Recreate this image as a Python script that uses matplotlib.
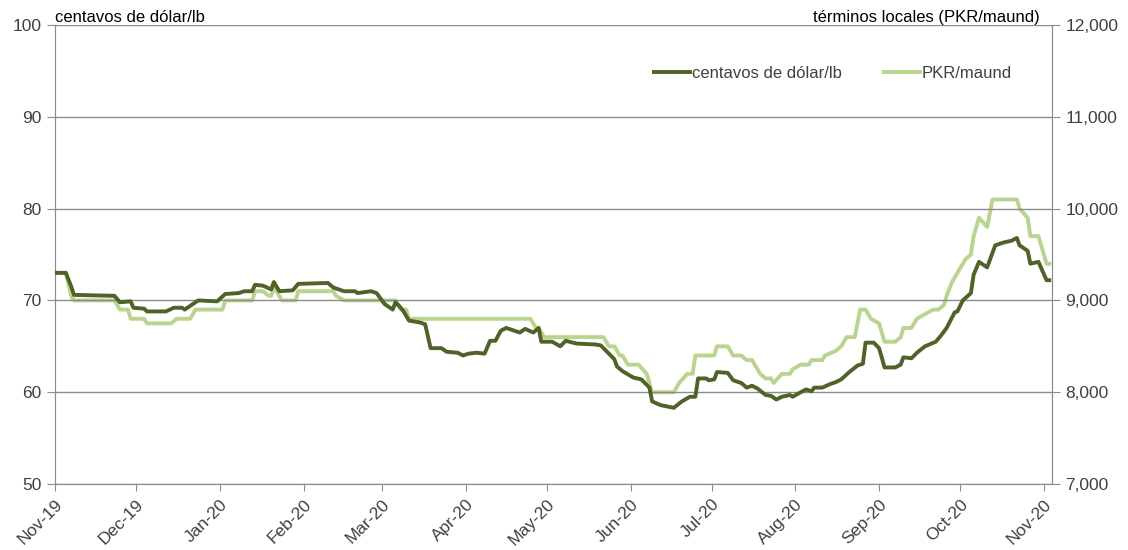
import matplotlib
matplotlib.use("Agg")
import matplotlib.pyplot as plt
import matplotlib.dates as mdates
from matplotlib.ticker import FuncFormatter
import pandas as pd

plt.rcParams['font.family'] = ['Liberation Sans', 'DejaVu Sans']

# centavos de dólar/lb (eje izquierdo)
usd_dates = ["2019-11-01", "2019-11-05", "2019-11-07", "2019-11-08", "2019-11-23", "2019-11-25",
             "2019-11-29", "2019-11-30", "2019-12-04", "2019-12-05", "2019-12-12", "2019-12-15",
             "2019-12-18", "2019-12-19", "2019-12-24", "2019-12-31", "2020-01-03", "2020-01-08",
             "2020-01-10", "2020-01-13", "2020-01-14", "2020-01-17", "2020-01-20", "2020-01-21",
             "2020-01-23", "2020-01-28", "2020-01-30", "2020-02-10", "2020-02-12", "2020-02-16",
             "2020-02-20", "2020-02-21", "2020-02-26", "2020-02-28", "2020-03-02", "2020-03-05",
             "2020-03-06", "2020-03-08", "2020-03-09", "2020-03-11", "2020-03-15", "2020-03-17",
             "2020-03-19", "2020-03-23", "2020-03-25", "2020-03-29", "2020-03-31", "2020-04-02",
             "2020-04-05", "2020-04-08", "2020-04-10", "2020-04-12", "2020-04-14", "2020-04-16",
             "2020-04-21", "2020-04-23", "2020-04-26", "2020-04-28", "2020-04-29", "2020-05-03",
             "2020-05-06", "2020-05-08", "2020-05-12", "2020-05-19", "2020-05-21", "2020-05-24",
             "2020-05-26", "2020-05-27", "2020-05-29", "2020-06-02", "2020-06-05", "2020-06-08",
             "2020-06-09", "2020-06-12", "2020-06-17", "2020-06-20", "2020-06-23", "2020-06-25",
             "2020-06-26", "2020-06-29", "2020-06-30", "2020-07-02", "2020-07-03", "2020-07-07",
             "2020-07-09", "2020-07-12", "2020-07-14", "2020-07-16", "2020-07-18", "2020-07-21",
             "2020-07-23", "2020-07-25", "2020-07-27", "2020-07-30", "2020-07-31", "2020-08-03",
             "2020-08-05", "2020-08-07", "2020-08-08", "2020-08-11", "2020-08-14", "2020-08-16",
             "2020-08-18", "2020-08-21", "2020-08-24", "2020-08-26", "2020-08-27", "2020-08-30",
             "2020-09-01", "2020-09-02", "2020-09-03", "2020-09-07", "2020-09-09", "2020-09-10",
             "2020-09-13", "2020-09-15", "2020-09-18", "2020-09-22", "2020-09-24", "2020-09-26",
             "2020-09-29", "2020-09-30", "2020-10-02", "2020-10-05", "2020-10-06", "2020-10-08",
             "2020-10-11", "2020-10-14", "2020-10-17", "2020-10-20", "2020-10-22", "2020-10-23",
             "2020-10-26", "2020-10-27", "2020-10-30", "2020-11-02", "2020-11-03"]
usd_values = [73.0, 73.0, 71.5, 70.6, 70.5, 69.8,
              69.9, 69.2, 69.1, 68.8, 68.8, 69.2,
              69.2, 69.0, 70.0, 69.9, 70.7, 70.8,
              71.0, 71.0, 71.7, 71.6, 71.2, 72.0,
              71.0, 71.1, 71.8, 71.9, 71.4, 71.0,
              71.0, 70.8, 71.0, 70.8, 69.6, 69.0,
              69.8, 69.2, 68.8, 67.8, 67.6, 67.4,
              64.8, 64.8, 64.4, 64.3, 64.0, 64.2,
              64.3, 64.2, 65.6, 65.6, 66.7, 67.0,
              66.5, 66.9, 66.5, 67.0, 65.5, 65.5,
              65.0, 65.6, 65.3, 65.2, 65.1, 64.2,
              63.6, 62.8, 62.3, 61.6, 61.4, 60.5,
              59.0, 58.6, 58.3, 59.0, 59.5, 59.5,
              61.5, 61.5, 61.3, 61.4, 62.2, 62.1,
              61.3, 61.0, 60.5, 60.7, 60.4, 59.7,
              59.6, 59.2, 59.5, 59.7, 59.5, 60.0,
              60.3, 60.1, 60.5, 60.5, 60.9, 61.1,
              61.4, 62.2, 62.9, 63.1, 65.4, 65.4,
              64.8, 63.8, 62.7, 62.7, 63.0, 63.8,
              63.7, 64.3, 65.0, 65.5, 66.2, 67.0,
              68.7, 68.8, 70.0, 70.8, 72.8, 74.2,
              73.6, 76.0, 76.3, 76.5, 76.8, 76.0,
              75.4, 74.0, 74.2, 72.2, 72.2]

# PKR/maund (eje derecho)
pkr_dates = ["2019-11-01", "2019-11-05", "2019-11-07", "2019-11-08", "2019-11-23", "2019-11-25",
             "2019-11-28", "2019-11-29", "2019-12-04", "2019-12-05", "2019-12-14", "2019-12-16",
             "2019-12-21", "2019-12-23", "2020-01-02", "2020-01-03", "2020-01-13", "2020-01-14",
             "2020-01-17", "2020-01-19", "2020-01-20", "2020-01-21", "2020-01-24", "2020-01-29",
             "2020-01-30", "2020-02-12", "2020-02-13", "2020-02-16", "2020-03-06", "2020-03-08",
             "2020-03-10", "2020-03-11", "2020-04-25", "2020-04-27", "2020-04-28", "2020-04-30",
             "2020-05-22", "2020-05-24", "2020-05-26", "2020-05-28", "2020-05-29", "2020-05-31",
             "2020-06-04", "2020-06-07", "2020-06-09", "2020-06-17", "2020-06-19", "2020-06-22",
             "2020-06-24", "2020-06-25", "2020-07-02", "2020-07-03", "2020-07-07", "2020-07-09",
             "2020-07-12", "2020-07-14", "2020-07-16", "2020-07-19", "2020-07-21", "2020-07-23",
             "2020-07-24", "2020-07-27", "2020-07-30", "2020-07-31", "2020-08-03", "2020-08-06",
             "2020-08-07", "2020-08-11", "2020-08-12", "2020-08-16", "2020-08-18", "2020-08-20",
             "2020-08-23", "2020-08-25", "2020-08-27", "2020-08-29", "2020-09-01", "2020-09-03",
             "2020-09-07", "2020-09-09", "2020-09-10", "2020-09-13", "2020-09-15", "2020-09-18",
             "2020-09-21", "2020-09-23", "2020-09-25", "2020-09-26", "2020-09-28", "2020-09-29",
             "2020-10-01", "2020-10-03", "2020-10-05", "2020-10-06", "2020-10-08", "2020-10-11",
             "2020-10-13", "2020-10-22", "2020-10-23", "2020-10-26", "2020-10-27", "2020-10-30",
             "2020-11-02", "2020-11-03"]
pkr_values = [9300, 9300, 9050, 9000, 9000, 8900,
              8900, 8800, 8800, 8750, 8750, 8800,
              8800, 8900, 8900, 9000, 9000, 9100,
              9100, 9050, 9050, 9150, 9000, 9000,
              9100, 9100, 9050, 9000, 9000, 8900,
              8900, 8800, 8800, 8700, 8700, 8600,
              8600, 8500, 8500, 8400, 8400, 8300,
              8300, 8200, 8000, 8000, 8100, 8200,
              8200, 8400, 8400, 8500, 8500, 8400,
              8400, 8350, 8350, 8200, 8150, 8150,
              8100, 8200, 8200, 8250, 8300, 8300,
              8350, 8350, 8400, 8450, 8500, 8600,
              8600, 8900, 8900, 8800, 8750, 8550,
              8550, 8600, 8700, 8700, 8800, 8850,
              8900, 8900, 8950, 9050, 9200, 9250,
              9350, 9450, 9500, 9700, 9900, 9800,
              10100, 10100, 10000, 9900, 9700, 9700,
              9400, 9400]

dark = "#4F6228"
light = "#B9D48E"
txt = "#404040"
grid_c = "#8C8C8C"

fig = plt.figure(figsize=(11.28, 5.5), dpi=100)
ax = fig.add_axes([0.0488, 0.12, 0.8838, 0.8345])
ax2 = ax.twinx()

ax.plot(pd.to_datetime(usd_dates), usd_values, color=dark, lw=2.8, zorder=3,
        label="centavos de dólar/lb")
ax2.plot(pd.to_datetime(pkr_dates), pkr_values, color=light, lw=2.8, zorder=2,
         label="PKR/maund")
ax.set_zorder(ax2.get_zorder() + 1)
ax.patch.set_visible(False)

ax.set_ylim(50, 100)
ax2.set_ylim(7000, 12000)
ax.set_yticks(range(50, 101, 10))
ax2.set_yticks(range(7000, 12001, 1000))
ax2.yaxis.set_major_formatter(FuncFormatter(lambda v, p: f"{int(v):,}"))

ax.set_xlim(pd.Timestamp("2019-11-01"), pd.Timestamp("2020-11-04"))
ax.xaxis.set_major_locator(mdates.MonthLocator())
ax.xaxis.set_major_formatter(mdates.DateFormatter("%b-%y"))
for lab in ax.get_xticklabels():
    lab.set_rotation(45)
    lab.set_ha("right")
    lab.set_rotation_mode("anchor")

ax.grid(axis="y", color=grid_c, lw=1)
ax.set_axisbelow(True)
for a in (ax, ax2):
    a.spines["top"].set_visible(False)
    for s in ("left", "right", "bottom"):
        a.spines[s].set_color(grid_c)
    a.tick_params(colors=grid_c, labelcolor=txt, labelsize=12.5, length=6)
ax.tick_params(axis="x", length=5, pad=4)

fig.text(0.0488, 0.968, "centavos de dólar/lb", fontsize=12, color="black", ha="left", va="center")
fig.text(0.922, 0.968, "términos locales (PKR/maund)", fontsize=12, color="black", ha="right", va="center")

h1, l1 = ax.get_legend_handles_labels()
h2, l2 = ax2.get_legend_handles_labels()
ax.legend(h1 + h2, l1 + l2, loc="center right", bbox_to_anchor=(0.975, 0.895), ncol=2,
          frameon=False, fontsize=12, handlelength=2.2, handletextpad=0.1, columnspacing=2.5,
          labelcolor=txt)

fig.savefig("out.png", dpi=100)
